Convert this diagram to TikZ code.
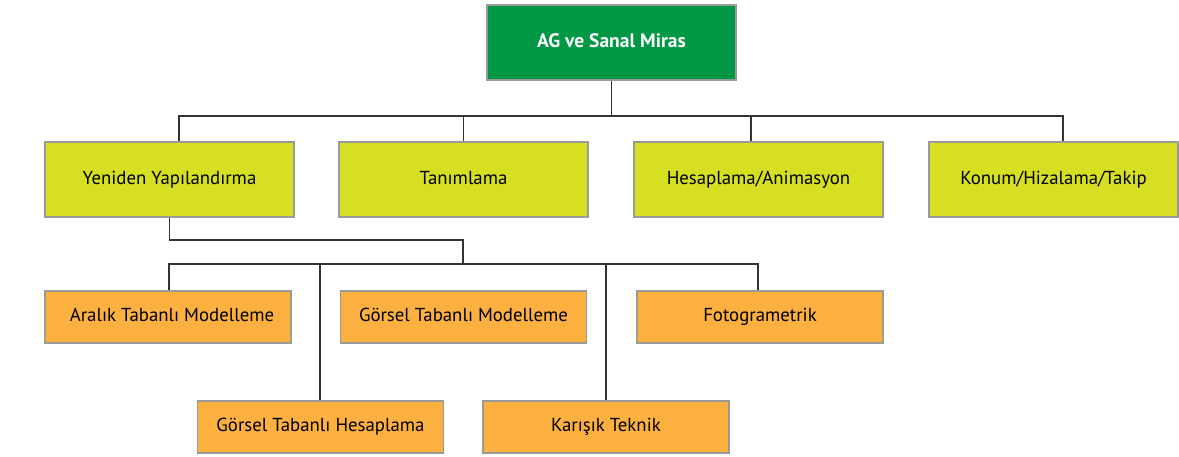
\documentclass[tikz,border=0pt]{standalone}
\usepackage{fontspec}
\setmainfont{PT Sans}
\definecolor{rootgreen}{HTML}{009845}
\definecolor{limegreen}{HTML}{D6DF22}
\definecolor{boxorange}{HTML}{FBB040}
\definecolor{boxedge}{HTML}{9A9A9A}
\definecolor{linkgray}{HTML}{333333}
\tikzset{
  kutu/.style={draw=boxedge,line width=1.2pt,inner sep=0pt,text height=1.1em,text depth=0.2em,font=\fontsize{18.8}{22}\selectfont},
  anakutu/.style={kutu,fill=rootgreen,text=white,font=\fontsize{19.5}{22}\selectfont\bfseries,minimum width=249pt,minimum height=75pt},
  alan/.style={kutu,fill=limegreen,minimum width=249pt,minimum height=75pt},
  yontem/.style={kutu,fill=boxorange,minimum width=246pt,minimum height=52pt},
  link/.style={draw=linkgray,line width=1.8pt}
}
\begin{document}
\begin{tikzpicture}[x=1pt,y=-1pt]
\useasboundingbox (0,0) rectangle (1179,456);
% ust kutu
\node[anakutu] (root) at (611.5,42.5) {AG ve Sanal Miras};
% ikinci seviye
\node[alan] (yen) at (169.5,179.5) {Yeniden Yapılandırma};
\node[alan] (tan) at (463.5,179.5) {Tanımlama};
\node[alan] (hes) at (758.5,179.5) {Hesaplama/Animasyon};
\node[alan] (kon) at (1053.5,179.5) {Konum/Hizalama/Takip};
% ucuncu seviye
\node[yontem] (ara) at (168,317) {\hspace*{8pt}Aralık Tabanlı Modelleme};
\node[yontem] (gtm) at (463.5,317) {Görsel Tabanlı Modelleme};
\node[yontem] (fot) at (760,317) {Fotogrametrik};
\node[yontem] (gth) at (320.5,427) {Görsel Tabanlı Hesaplama};
\node[yontem] (kar) at (606,427) {Karışık Teknik};

% baglantilar
\coordinate (b1) at (611.5,116);
\coordinate (k1) at (463,240);
\coordinate (b2) at (463,264);
\draw[link] (root.south) -- (b1);
\draw[link] ([xshift=9.5pt]yen.north) |- (b1);
\draw[link] (tan.north) |- (b1);
\draw[link] ([xshift=-7.5pt]hes.north) |- (b1);
\draw[link] ([xshift=9.5pt]kon.north) |- (b1);
\draw[link] (yen.south) |- (k1) -- (b2);
\draw[link] ([xshift=1pt]ara.north) |- (b2);
\draw[link] ([xshift=-2pt]fot.north) |- (b2);
\draw[link] ([xshift=-0.5pt]gth.north) |- (b2);
\draw[link] (kar.north) |- (b2);
\end{tikzpicture}
\end{document}
